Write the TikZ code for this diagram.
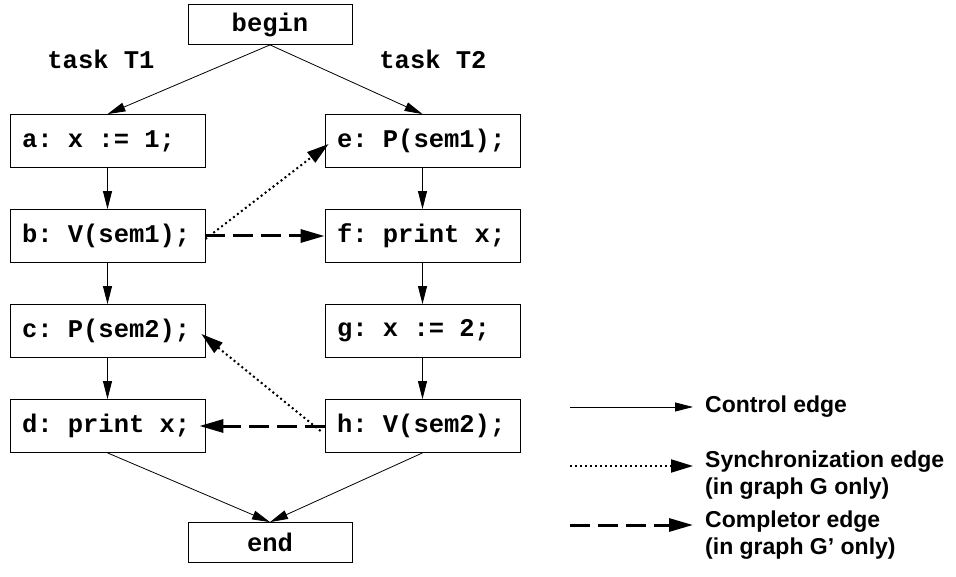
\documentclass[tikz,border=0pt]{standalone}
\usepackage{fontspec}
\setmainfont{Liberation Sans}
\newfontfamily\codefont{Liberation Mono}
\usetikzlibrary{arrows.meta}
\begin{document}
\begin{tikzpicture}[x=1pt,y=-1pt,
  code/.style={font=\codefont\bfseries\fontsize{25.5}{28}\selectfont\frenchspacing},
  box/.style={code, draw, line width=0.8pt, minimum height=53pt, minimum width=195pt, inner xsep=12pt, inner ysep=0pt,
    execute at begin node={\hbox to 171pt\bgroup}, execute at end node={\hfil\egroup}},
  endbox/.style={code, draw, line width=0.8pt, minimum width=164pt, minimum height=40pt, inner sep=0pt},
  ctrl/.style={line width=0.8pt, -{Triangle[length=18pt,width=9pt]}},
  sync/.style={line width=2pt, dash pattern=on 2pt off 3pt, -{Triangle[length=22pt,width=13pt]}},
  compl/.style={line width=3pt, dash pattern=on 20pt off 8pt, -{Triangle[length=24pt,width=13pt]}},
  legend/.style={font=\bfseries\fontsize{23}{26.5}\selectfont, align=left, inner sep=0pt}
]
\useasboundingbox (0,0) rectangle (956,577);
\node[endbox] (begin) at (270,24.5) {begin};
\node[code] (t1) at (101,59) {task T1};
\node[code] (t2) at (433,59) {task T2};
\node[box] (a) at (107.5,141) {a: x := 1;};
\node[box] (b) at (107.5,236) {b: V(sem1);};
\node[box] (c) at (107.5,331) {c: P(sem2);};
\node[box] (d) at (107.5,426) {d: print x;};
\node[box] (e) at (422.5,141) {e: P(sem1);};
\node[box] (f) at (422.5,236) {f: print x;};
\node[box] (g) at (422.5,331) {g: x := 2;};
\node[box] (h) at (422.5,426) {h: V(sem2);};
\node[endbox] (end) at (270,542.5) {end};

\draw[ctrl] (begin.south) -- (a.north);
\draw[ctrl] (begin.south) -- (e.north);
\draw[ctrl] (a) -- (b);
\draw[ctrl] (b) -- (c);
\draw[ctrl] (c) -- (d);
\draw[ctrl] (e) -- (f);
\draw[ctrl] (f) -- (g);
\draw[ctrl] (g) -- (h);
\draw[ctrl] (d.south) -- (end.north);
\draw[ctrl] (h.south) -- (end.north);

\draw[sync] ([yshift=-3pt]b.east) -- ([xshift=4pt,yshift=-3pt]e.west);
\draw[compl] (b.east) -- (f.west);
\draw[sync] ([xshift=-4pt,yshift=-5pt]h.west) -- ([xshift=-4pt,yshift=-3pt]c.east);
\draw[compl] (h.west) -- ([xshift=-6pt]d.east);

\coordinate (l1s) at (570,407);
\coordinate (l1e) at (693,407);
\coordinate (l2s) at (570,466);
\coordinate (l2e) at (693,466);
\coordinate (l3s) at (570,525);
\coordinate (l3e) at (693,525);
\draw[ctrl] (l1s) -- (l1e);
\draw[sync] (l2s) -- (l2e);
\draw[compl] (l3s) -- (l3e);
\node[legend, anchor=west] (lt1) at (705,407) {Control edge};
\node[legend, anchor=north west] (lt2) at (705,451) {Synchronization edge\\(in graph G only)};
\node[legend, anchor=north west] (lt3) at (705,511) {Completor edge\\(in graph G’ only)};
\end{tikzpicture}
\end{document}
